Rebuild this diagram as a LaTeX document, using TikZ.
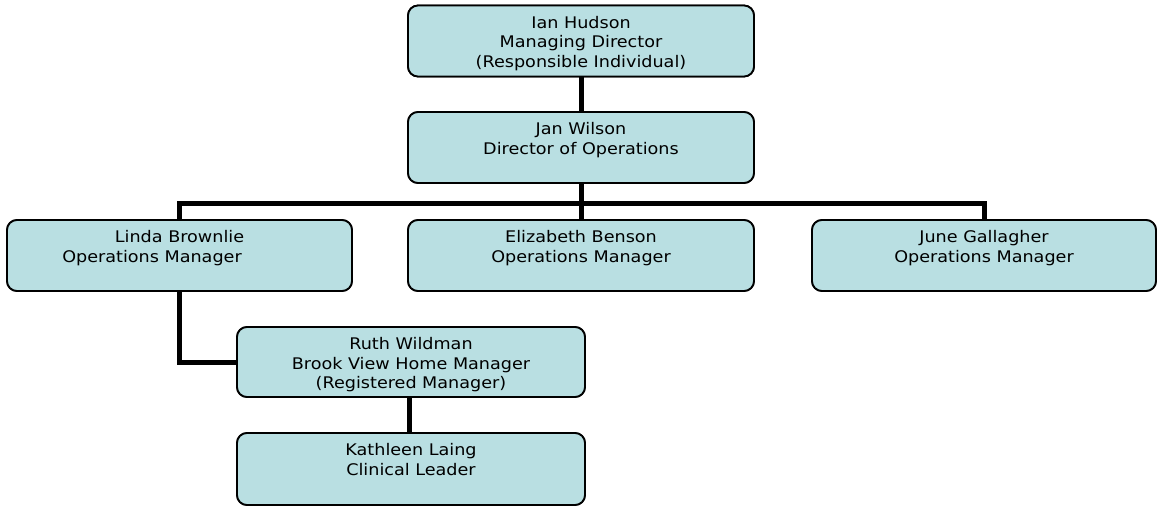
\documentclass[tikz,border=0pt]{standalone}
\usepackage{fontspec}
\setmainfont[FakeStretch=1.1]{DejaVu Sans}
\definecolor{boxfill}{HTML}{B9DFE2}
\begin{document}
\begin{tikzpicture}[x=1pt,y=1pt,
  orgbox/.style={draw=black, line width=1.8pt, fill=boxfill, rounded corners=10pt,
    minimum width=346pt, minimum height=71pt, inner sep=0pt},
  txt/.style={anchor=north, inner sep=0pt, align=center,
    font=\fontsize{16}{19.5}\selectfont, yshift=-11.5pt},
  conn/.style={line width=5pt, line join=miter}]
\useasboundingbox (0,0) rectangle (1162,-506);
\node[orgbox] (ian) at (581,-41) {};
\node[orgbox] (jan) at (581,-147.5) {};
\node[orgbox, minimum width=345pt] (linda) at (179.5,-255.5) {};
\node[orgbox] (eliz) at (581,-255.5) {};
\node[orgbox, minimum width=344pt] (june) at (984,-255.5) {};
\node[orgbox, minimum width=348pt, minimum height=70pt] (ruth) at (411,-362) {};
\node[orgbox, minimum width=348pt, minimum height=72pt] (kath) at (411,-469) {};
\coordinate (bar) at (581,-203);
% connectors (drawn, then boxes redrawn on top)
\draw[conn] (ian.south) -- (jan.north);
\draw[conn] (jan.south) -- (eliz.north);
\draw[conn] (linda.north) |- (bar) -| (june.north);
\draw[conn] (linda.south) |- (ruth.west);
\draw[conn] (ruth.south -| 409,0) -- (kath.north -| 409,0);
% boxes on top
\node[orgbox] at (ian) {};
\node[orgbox] at (jan) {};
\node[orgbox, minimum width=345pt] at (linda) {};
\node[orgbox] at (eliz) {};
\node[orgbox, minimum width=344pt] at (june) {};
\node[orgbox, minimum width=348pt, minimum height=70pt] at (ruth) {};
\node[orgbox, minimum width=348pt, minimum height=72pt] at (kath) {};
% texts
\node[txt] (ianT) at (ian.north) {Ian Hudson\\Managing Director\\(Responsible Individual)};
\node[txt] (janT) at (jan.north) {Jan Wilson\\Director of Operations};
\node[txt] (lindaT) at (linda.north) {Linda Brownlie\\Operations Manager\hspace*{55pt}};
\node[txt] (elizT) at (eliz.north) {Elizabeth Benson\\Operations Manager};
\node[txt] (juneT) at (june.north) {June Gallagher\\Operations Manager};
\node[txt] (ruthT) at (ruth.north) {Ruth Wildman\\Brook View Home Manager\\(Registered Manager)};
\node[txt] (kathT) at (kath.north) {Kathleen Laing\\Clinical Leader};
\end{tikzpicture}
\end{document}
